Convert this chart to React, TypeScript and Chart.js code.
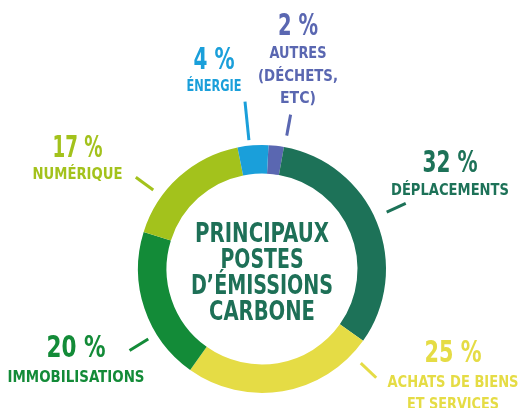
import React, { useEffect, useRef } from "react";
import { Chart, registerables } from "chart.js";

Chart.register(...registerables);

const categories = ["AUTRES (DÉCHETS, ETC)", "DÉPLACEMENTS", "ACHATS DE BIENS ET SERVICES", "IMMOBILISATIONS", "NUMÉRIQUE", "ÉNERGIE"];
const values = [2, 32, 25, 20, 17, 4];
const labelLines: string[][] = [
  ["AUTRES", "(DÉCHETS,", "ETC)"],
  ["DÉPLACEMENTS"],
  ["ACHATS DE BIENS", "ET SERVICES"],
  ["IMMOBILISATIONS"],
  ["NUMÉRIQUE"],
  ["ÉNERGIE"],
];
const centerTitle = ["PRINCIPAUX", "POSTES", "D’ÉMISSIONS", "CARBONE"];

const colors = ["#5a67b1", "#1d7258", "#e5dc45", "#138b38", "#a3c21c", "#1a9fda"];
const titleColor = "#1e7057";

// layout of callouts (style only)
const callouts = [
  { angle: 10.5, r0: 1.094, r1: 1.266, dx: 36, pctY: -234, lblY: -211, pitch: 22.5, pctW: 40, lblW: [57, 80, 36] },
  { angle: 65.5, r0: 1.105, r1: 1.274, dx: 188, pctY: -97.5, lblY: -74, pitch: 22.5, pctW: 55, lblW: [118] },
  { angle: 133.6, r0: 1.1, r1: 1.272, dx: 191, pctY: 92.7, lblY: 117.7, pitch: 22.5, pctW: 57, lblW: [131, 92] },
  { angle: 238.4, r0: 1.077, r1: 1.254, dx: -186, pctY: 87.7, lblY: 112.7, pitch: 22.5, pctW: 59, lblW: [137] },
  { angle: 306, r0: 1.084, r1: 1.258, dx: -184.5, pctY: -112.3, lblY: -89.7, pitch: 22.5, pctW: 50, lblW: [90] },
  { angle: 354.2, r0: 1.045, r1: 1.357, dx: -48, pctY: -199.7, lblY: -178.3, pitch: 22.5, pctW: 41, lblW: [55] },
];
const centerWidths = [134, 83, 142, 106];

const FONT = '"DejaVu Sans Condensed", "DejaVu Sans", sans-serif';

const calloutPlugin = {
  id: "callouts",
  afterDraw(chart: any) {
    const meta = chart.getDatasetMeta(0);
    const arc0 = meta.data[0];
    if (!arc0) return;
    const cx = arc0.x;
    const cy = arc0.y;
    const R = arc0.outerRadius;
    const ctx = chart.ctx as CanvasRenderingContext2D;
    ctx.save();
    values.forEach((v, i) => {
      const c = callouts[i];
      const col = colors[i];
      const a = ((c.angle - 90) * Math.PI) / 180;
      ctx.strokeStyle = col;
      ctx.lineWidth = 3;
      ctx.lineCap = "butt";
      ctx.beginPath();
      ctx.moveTo(cx + R * c.r0 * Math.cos(a), cy + R * c.r0 * Math.sin(a));
      ctx.lineTo(cx + R * c.r1 * Math.cos(a), cy + R * c.r1 * Math.sin(a));
      ctx.stroke();

      ctx.fillStyle = col;
      ctx.textAlign = "center";
      ctx.textBaseline = "alphabetic";
      ctx.font = `bold 29.5px ${FONT}`;
      ctx.fillText(`${v} %`, cx + c.dx, cy + c.pctY, c.pctW);
      ctx.font = `bold 16.5px ${FONT}`;
      labelLines[i].forEach((t, j) => {
        ctx.fillText(t, cx + c.dx, cy + c.lblY + j * c.pitch, c.lblW[j]);
      });
    });
    ctx.fillStyle = titleColor;
    ctx.font = `bold 26px ${FONT}`;
    ctx.textAlign = "center";
    centerTitle.forEach((t, j) => {
      ctx.fillText(t, cx, cy - 27.5 + j * 26, centerWidths[j]);
    });
    ctx.restore();
  },
};

export default function App() {
  const ref = useRef<HTMLCanvasElement>(null);
  useEffect(() => {
    if (!ref.current) return;
    const chart = new Chart(ref.current, {
      type: "doughnut",
      data: {
        labels: categories,
        datasets: [
          {
            data: values,
            backgroundColor: colors,
            borderWidth: 0,
          },
        ],
      },
      options: {
        responsive: false,
        animation: false,
        rotation: 3,
        cutout: "77%",
        layout: { padding: { left: 138, right: 135, top: 145, bottom: 15 } },
        plugins: {
          legend: { display: false },
          tooltip: { enabled: false },
        },
      },
      plugins: [calloutPlugin],
    });
    return () => chart.destroy();
  }, []);
  return (
    <div style={{ position: "fixed", left: 0, top: 0, width: 521, height: 408, background: "#fff" }}>
      <canvas ref={ref} width={521} height={408} style={{ display: "block" }} />
    </div>
  );
}
